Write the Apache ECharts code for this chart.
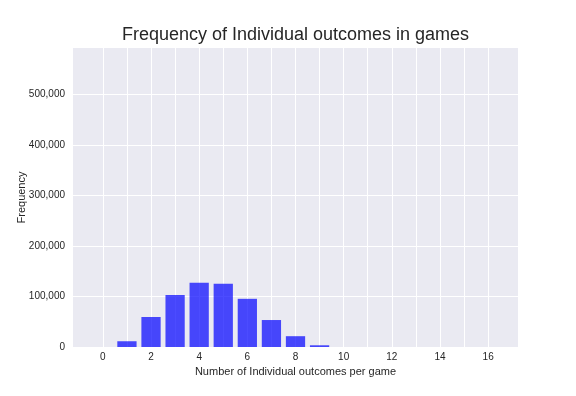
<!DOCTYPE html>
<html>
<head>
<meta charset="utf-8">
<script src="https://cdn.jsdelivr.net/npm/echarts@6/dist/echarts.min.js"></script>
<style>html,body{margin:0;padding:0;background:#fff}#c{width:576px;height:396px}</style>
</head>
<body>
<div id="c"></div>
<script>
const outcomes = [0,1,2,3,4,5,6,7,8,9,10,11,12,13,14,15,16];
const frequency = [0,11400,59400,103000,127000,125000,95400,53400,21400,3400,0,0,0,0,0,0,0];
const yTicks = [0,100000,200000,300000,400000,500000];
const xGrid = [0,1,2,3,4,5,6,7,8,9,10,11,12,13,14,15,16];
const xTickLabels = [0,2,4,6,8,10,12,14,16];

const chart = echarts.init(document.getElementById('c'), null, {renderer:'canvas'});
const textColor = '#262626';
const font = 'Liberation Sans, Arial, sans-serif';
chart.setOption({
  animation:false,
  backgroundColor:'#ffffff',
  graphic:[{type:'text', x:295.5, y:35.5, style:{text:'Frequency of Individual outcomes in games', font:'18px Liberation Sans, Arial, sans-serif', fill:textColor, textAlign:'center', textVerticalAlign:'middle'}}],
  grid:{left:73, right:58, top:48, bottom:49, show:true, backgroundColor:'#EAEAF2', borderWidth:0},
  xAxis:{type:'value', min:-1.24, max:17.24,
    name:'Number of Individual outcomes per game', nameLocation:'middle', nameGap:19, nameMoveOverlap:false,
    nameTextStyle:{color:textColor, fontSize:11, fontFamily:font},
    axisLine:{show:false}, axisTick:{show:false, customValues:xGrid},
    axisLabel:{color:textColor, fontSize:10, fontFamily:font, margin:5, customValues:xTickLabels,
      formatter:function(v){ return String(v); }},
    splitLine:{show:true, lineStyle:{color:'#ffffff', width:1}}},
  yAxis:{type:'value', min:0, max:592000,
    name:'Frequency', nameLocation:'middle', nameGap:46, nameMoveOverlap:false,
    nameTextStyle:{color:textColor, fontSize:11, fontFamily:font},
    axisLine:{show:false}, axisTick:{show:false, customValues:yTicks},
    axisLabel:{color:textColor, fontSize:10, fontFamily:font, margin:8, customValues:yTicks,
      formatter:function(v){ return v.toLocaleString('en-US'); }},
    splitLine:{show:true, lineStyle:{color:'#ffffff', width:1}}},
  series:[{type:'custom', data: outcomes.map((x,i)=>[x, frequency[i]]),
    encode:{x:0, y:1},
    renderItem:function(params, api){
      const x = api.value(0), y = api.value(1);
      const top = api.coord([x, y]);
      const base = api.coord([x, 0]);
      const w = api.size([0.8, 0])[0];
      return {type:'rect', shape:{x: top[0]-w/2, y: top[1], width: w, height: base[1]-top[1]},
        style:{fill:'rgba(0,0,255,0.7)'}};
    }}]
});
</script>
</body>
</html>
